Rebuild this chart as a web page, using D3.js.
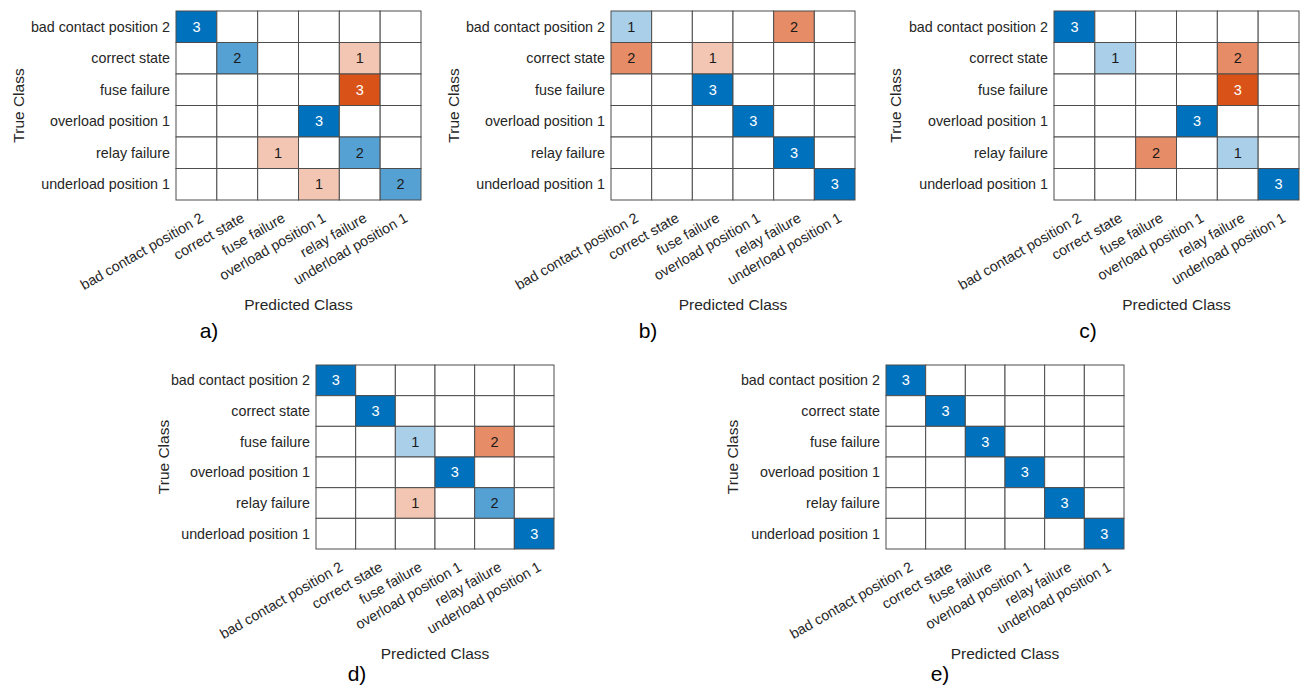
<!DOCTYPE html>
<html>
<head>
<meta charset="utf-8">
<script src="https://cdn.jsdelivr.net/npm/d3@7"></script>
<style>
  body { margin: 0; background: #fff; }
  text { font-family: "Liberation Sans", Arial, Helvetica, sans-serif; }
</style>
</head>
<body>
<div id="chart"></div>
<script>
// class names, same order on both axes
let classes = ["bad contact position 2", "correct state", "fuse failure",
               "overload position 1", "relay failure", "underload position 1"]

// confusion matrices, rows = true class, columns = predicted class
let matrixA = [
  [3,0,0,0,0,0],
  [0,2,0,0,1,0],
  [0,0,0,0,3,0],
  [0,0,0,3,0,0],
  [0,0,1,0,2,0],
  [0,0,0,1,0,2]
]
let matrixB = [
  [1,0,0,0,2,0],
  [2,0,1,0,0,0],
  [0,0,3,0,0,0],
  [0,0,0,3,0,0],
  [0,0,0,0,3,0],
  [0,0,0,0,0,3]
]
let matrixC = [
  [3,0,0,0,0,0],
  [0,1,0,0,2,0],
  [0,0,0,0,3,0],
  [0,0,0,3,0,0],
  [0,0,2,0,1,0],
  [0,0,0,0,0,3]
]
let matrixD = [
  [3,0,0,0,0,0],
  [0,3,0,0,0,0],
  [0,0,1,0,2,0],
  [0,0,0,3,0,0],
  [0,0,1,0,2,0],
  [0,0,0,0,0,3]
]
let matrixE = [
  [3,0,0,0,0,0],
  [0,3,0,0,0,0],
  [0,0,3,0,0,0],
  [0,0,0,3,0,0],
  [0,0,0,0,3,0],
  [0,0,0,0,0,3]
]
let panelLabels = ["a)", "b)", "c)", "d)", "e)"]
let matrices = [matrixA, matrixB, matrixC, matrixD, matrixE]

// where each panel's grid sits on the page
let layout = [
  {x0: 176,  x1: 421,  y0: 11,  y1: 200, yTitleX: 18,  capX: 209},
  {x0: 611,  x1: 855,  y0: 11,  y1: 200, yTitleX: 453, capX: 648},
  {x0: 1054, x1: 1299, y0: 11,  y1: 200, yTitleX: 895, capX: 1088},
  {x0: 316,  x1: 554,  y0: 365, y1: 549, yTitleX: 163, capX: 357},
  {x0: 886,  x1: 1124, y0: 365, y1: 549, yTitleX: 732, capX: 940}
]

let svg = d3.select("#chart").append("svg")
  .attr("width", 1302)
  .attr("height", 686)

let blue = d3.scaleLinear().domain([0, 3]).range(["#ffffff", "#0072BD"])
let orange = d3.scaleLinear().domain([0, 3]).range(["#ffffff", "#D95319"])

matrices.forEach(function(m, p) {
  let L = layout[p]
  let g = svg.append("g")

  let x = d3.scaleBand().domain(classes).range([L.x0, L.x1])
  let y = d3.scaleBand().domain(classes).range([L.y0, L.y1])

  // flatten the matrix into cells
  let cells = []
  m.forEach(function(row, i) {
    row.forEach(function(v, j) {
      cells.push({t: classes[i], p: classes[j], v: v, diag: i == j})
    })
  })

  g.selectAll("rect.cell")
    .data(cells)
    .enter()
    .append("rect")
    .attr("class", "cell")
    .attr("x", d => x(d.p))
    .attr("y", d => y(d.t))
    .attr("width", x.bandwidth())
    .attr("height", y.bandwidth())
    .style("fill", d => d.v == 0 ? "#ffffff" : (d.diag ? blue(d.v) : orange(d.v)))
    .style("stroke", "#4d4d4d")
    .style("stroke-width", 1)

  g.selectAll("text.val")
    .data(cells.filter(d => d.v > 0))
    .enter()
    .append("text")
    .attr("class", "val")
    .attr("x", d => x(d.p) + x.bandwidth() / 2)
    .attr("y", d => y(d.t) + y.bandwidth() / 2)
    .attr("text-anchor", "middle")
    .attr("dominant-baseline", "central")
    .style("font-size", "14.5px")
    .style("fill", d => d.v == 3 ? "#ffffff" : "#1a1a1a")
    .text(d => d.v)

  // y tick labels
  g.selectAll("text.ylab")
    .data(classes)
    .enter()
    .append("text")
    .attr("class", "ylab")
    .attr("x", L.x0 - 6)
    .attr("y", d => y(d) + y.bandwidth() / 2)
    .attr("text-anchor", "end")
    .attr("dominant-baseline", "central")
    .style("font-size", "14.3px")
    .style("fill", "#262626")
    .text(d => d)

  // x tick labels, rotated
  g.selectAll("text.xlab")
    .data(classes)
    .enter()
    .append("text")
    .attr("class", "xlab")
    .attr("transform", d => "translate(" + (x(d) + x.bandwidth() / 2 + 3) + "," + (L.y1 + 12) + ") rotate(-30)")
    .attr("text-anchor", "end")
    .attr("dy", "0.71em")
    .style("font-size", "14.3px")
    .style("fill", "#262626")
    .text(d => d)

  g.append("text")
    .attr("x", (L.x0 + L.x1) / 2)
    .attr("y", L.y1 + 104)
    .attr("text-anchor", "middle")
    .attr("dominant-baseline", "central")
    .style("font-size", "15.5px")
    .style("fill", "#262626")
    .text("Predicted Class")

  g.append("text")
    .attr("transform", "translate(" + L.yTitleX + "," + ((L.y0 + L.y1) / 2) + ") rotate(-90)")
    .attr("text-anchor", "middle")
    .attr("dominant-baseline", "central")
    .style("font-size", "15.5px")
    .style("fill", "#262626")
    .text("True Class")

  g.append("text")
    .attr("x", L.capX)
    .attr("y", L.y1 + (p < 3 ? 130 : 124))
    .attr("text-anchor", "middle")
    .attr("dominant-baseline", "central")
    .style("font-size", "21px")
    .style("fill", "#000")
    .text(panelLabels[p])
})
</script>
</body>
</html>
